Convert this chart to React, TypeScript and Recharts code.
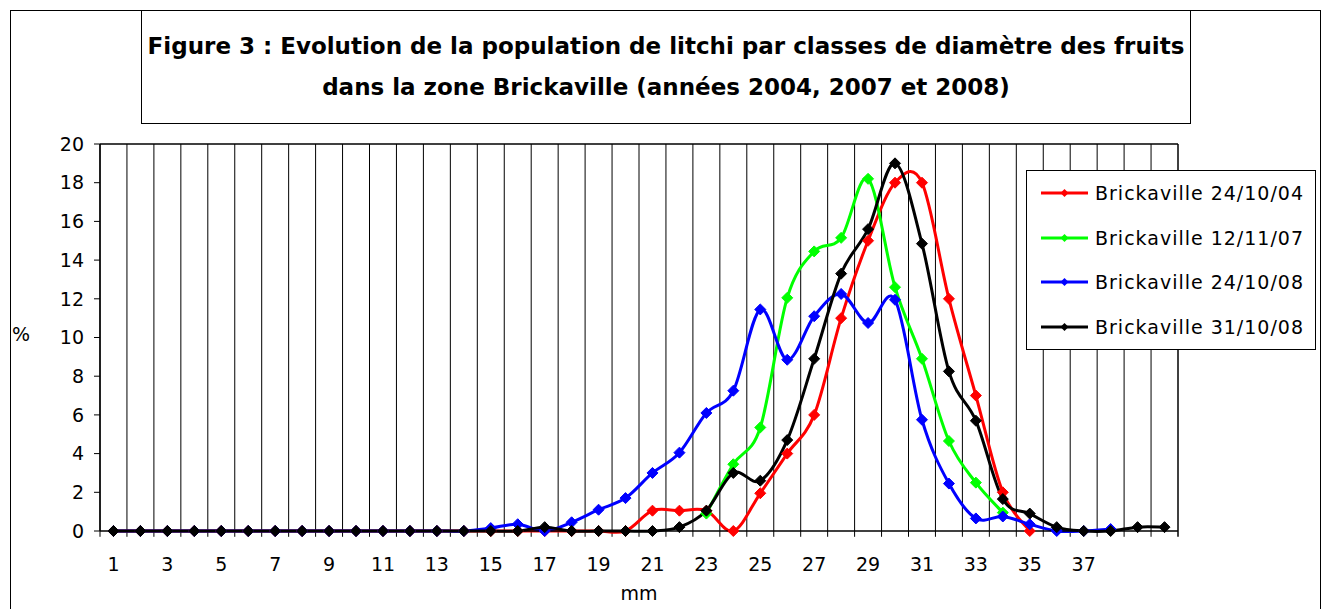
import React from "react";
import { LineChart, Line, XAxis, YAxis, Legend, ReferenceLine } from "recharts";

// diameter classes (mm)
const diameters = [
  1, 2, 3, 4, 5, 6, 7, 8, 9, 10, 11, 12, 13, 14, 15, 16, 17, 18, 19, 20,
  21, 22, 23, 24, 25, 26, 27, 28, 29, 30, 31, 32, 33, 34, 35, 36, 37, 38, 39, 40,
];
const tickLabels = [1, 3, 5, 7, 9, 11, 13, 15, 17, 19, 21, 23, 25, 27, 29, 31, 33, 35, 37];
const classBounds = [
  0.5, 1.5, 2.5, 3.5, 4.5, 5.5, 6.5, 7.5, 8.5, 9.5, 10.5, 11.5, 12.5, 13.5, 14.5, 15.5, 16.5, 17.5, 18.5, 19.5, 20.5,
  21.5, 22.5, 23.5, 24.5, 25.5, 26.5, 27.5, 28.5, 29.5, 30.5, 31.5, 32.5, 33.5, 34.5, 35.5, 36.5, 37.5, 38.5, 39.5, 40.5,
];
const yTicks = [0, 2, 4, 6, 8, 10, 12, 14, 16, 18, 20];

const seriesNames = [
  "Brickaville 24/10/04",
  "Brickaville 12/11/07",
  "Brickaville 24/10/08",
  "Brickaville 31/10/08",
];
const seriesColors = ["#ff0000", "#00ff00", "#0000ff", "#000000"];

// % of fruits per class
const red04 = [
  0, 0, 0, 0, 0, 0, 0, 0, 0, 0, 0, 0, 0, 0, 0, 0, 0, 0, 0, 0,
  1.05, 1.05, 1.05, 0, 1.95, 4.0, 6.0, 11.0, 15.0, 18.0, 18.0, 12.0, 7.0, 2.0, 0,
];
const green07 = [
  null, null, null, null, null, null, null, null, null, null, null, null, null, null, null, null, null, null, null, null,
  null, null, 0.9, 3.45, 5.35, 12.05, 14.45, 15.15, 18.2, 12.6, 8.9, 4.65, 2.5, 0.95,
];
const blue08 = [
  0, 0, 0, 0, 0, 0, 0, 0, 0, 0, 0, 0, 0, 0, 0.15, 0.35, 0, 0.45, 1.1, 1.7,
  3.0, 4.05, 6.1, 7.25, 11.45, 8.85, 11.1, 12.25, 10.75, 11.95, 5.75, 2.45, 0.65, 0.75, 0.35, 0, 0, 0.1,
];
const black08 = [
  0, 0, 0, 0, 0, 0, 0, 0, 0, 0, 0, 0, 0, 0, 0, 0, 0.2, 0, 0, 0,
  0, 0.2, 1.05, 3.0, 2.6, 4.7, 8.9, 13.3, 15.6, 19.0, 14.85, 8.25, 5.7, 1.65, 0.9, 0.2, 0, 0, 0.2, 0.2,
];

const data = diameters.map((mm, i) => ({
  mm,
  s0: red04[i] ?? null,
  s1: green07[i] ?? null,
  s2: blue08[i] ?? null,
  s3: black08[i] ?? null,
}));

const FONT = "'DejaVu Sans', sans-serif";

// smoothing like the spreadsheet's "smoothed line" (Catmull-Rom bezier)
const smoothCurve = (context: any) => {
  let pts: number[][] = [];
  return {
    areaStart() {},
    areaEnd() {},
    lineStart() {
      pts = [];
    },
    point(x: number, y: number) {
      pts.push([+x, +y]);
    },
    lineEnd() {
      const n = pts.length;
      if (!n) return;
      context.moveTo(pts[0][0], pts[0][1]);
      for (let i = 0; i < n - 1; i++) {
        const p0 = pts[i - 1] || pts[i];
        const p1 = pts[i];
        const p2 = pts[i + 1];
        const p3 = pts[i + 2] || p2;
        context.bezierCurveTo(
          p1[0] + (p2[0] - p0[0]) / 6,
          p1[1] + (p2[1] - p0[1]) / 6,
          p2[0] - (p3[0] - p1[0]) / 6,
          p2[1] - (p3[1] - p1[1]) / 6,
          p2[0],
          p2[1]
        );
      }
    },
  };
};

const Diamond = (props: any) => {
  const { cx, cy, stroke } = props;
  if (cx == null || cy == null || isNaN(cy)) return <g key={props.key} />;
  const r = 5.5;
  return (
    <polygon
      key={props.key}
      points={`${cx},${cy - r} ${cx + r},${cy} ${cx},${cy + r} ${cx - r},${cy}`}
      fill={stroke}
      stroke={stroke}
      strokeWidth={1}
    />
  );
};

const renderLegend = (props: any) => {
  const items = [...(props.payload || [])].sort(
    (a: any, b: any) => seriesNames.indexOf(a.value) - seriesNames.indexOf(b.value)
  );
  return (
    <div
      style={{
        border: "1px solid #000",
        background: "#fff",
        width: 290,
        height: 180,
        boxSizing: "border-box",
        fontFamily: FONT,
        fontSize: 19,
        letterSpacing: 1,
        color: "#000",
      }}
    >
      {items.map((e: any) => (
        <div key={e.value} style={{ display: "flex", alignItems: "center", height: 44.5 }}>
          <svg width={54} height={12} style={{ marginLeft: 14, flex: "none" }}>
            <line x1={0} y1={6} x2={47} y2={6} stroke={e.color} strokeWidth={3} />
            <polygon points="23.5,2 27.5,6 23.5,10 19.5,6" fill={e.color} />
          </svg>
          <span style={{ whiteSpace: "nowrap" }}>{e.value}</span>
        </div>
      ))}
    </div>
  );
};

export default function App() {
  return (
    <div
      style={{
        position: "absolute",
        left: 0,
        top: 0,
        width: 1326,
        height: 609,
        overflow: "hidden",
        background: "#fff",
        fontFamily: FONT,
      }}
    >
      <LineChart
        width={1326}
        height={609}
        data={data}
        margin={{ top: 144, right: 148, bottom: 37, left: 40 }}
      >
        <XAxis
          type="number"
          dataKey="mm"
          domain={[0.5, 40.5]}
          ticks={tickLabels}
          interval={0}
          height={41}
          axisLine={{ stroke: "#000", strokeWidth: 1.5 }}
          tickLine={false}
          tickSize={0}
          tickMargin={27}
          tick={{ fill: "#000", fontSize: 19, fontFamily: FONT }}
        />
        <YAxis
          domain={[0, 20]}
          ticks={yTicks}
          interval={0}
          width={60}
          tickSize={6}
          tickMargin={10}
          stroke="#000"
          axisLine={{ stroke: "#000", strokeWidth: 1.5 }}
          tick={{ fill: "#000", fontSize: 19, fontFamily: FONT }}
        />
        {/* vertical lines between classes, running a little below the axis as tick marks */}
        {classBounds.map((b) => (
          <ReferenceLine
            key={b}
            segment={[
              { x: b, y: -0.3 },
              { x: b, y: 20 },
            ]}
            ifOverflow="visible"
            stroke="#000"
            strokeWidth={b === 40.5 ? 1.5 : 1}
          />
        ))}
        <ReferenceLine y={20} stroke="#000" strokeWidth={1.5} />
        <Legend
          layout="vertical"
          align="center"
          verticalAlign="middle"
          wrapperStyle={{ left: 1026, top: 170, width: 290, height: 180 }}
          content={renderLegend}
        />
        {seriesNames.map((name, i) => (
          <Line
            key={name}
            name={name}
            dataKey={`s${i}`}
            type={smoothCurve as any}
            stroke={seriesColors[i]}
            strokeWidth={3}
            dot={(p: any) => <Diamond {...p} />}
            activeDot={false}
            isAnimationActive={false}
          />
        ))}
      </LineChart>

      {/* chart area border */}
      <div
        style={{
          position: "absolute",
          left: 10,
          top: 10,
          width: 1311,
          height: 700,
          border: "1px solid #000",
          boxSizing: "border-box",
          pointerEvents: "none",
        }}
      />
      {/* title box */}
      <div
        style={{
          position: "absolute",
          left: 141,
          top: 10,
          width: 1050,
          height: 114,
          border: "1px solid #000",
          boxSizing: "border-box",
          background: "#fff",
          textAlign: "center",
          fontWeight: "bold",
          fontSize: 23,
          lineHeight: "41px",
          paddingTop: 15,
          color: "#000",
          whiteSpace: "nowrap",
        }}
      >
        <div>Figure 3 : Evolution de la population de litchi par classes de diamètre des fruits</div>
        <div>dans la zone Brickaville (années 2004, 2007 et 2008)</div>
      </div>
      <div style={{ position: "absolute", left: 12, top: 323, fontSize: 19, color: "#000" }}>%</div>
      <div
        style={{
          position: "absolute",
          left: 589,
          top: 582,
          width: 100,
          textAlign: "center",
          fontSize: 19,
          color: "#000",
        }}
      >
        mm
      </div>
    </div>
  );
}
